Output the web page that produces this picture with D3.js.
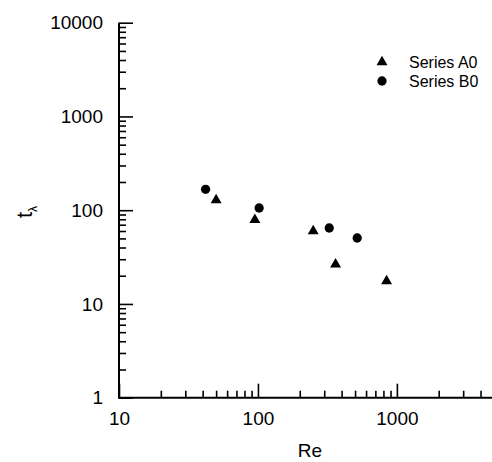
<!DOCTYPE html>
<html>
<head>
<meta charset="utf-8">
<script src="https://cdn.jsdelivr.net/npm/d3@7"></script>
<style>
  html, body { margin: 0; padding: 0; background: #fff; }
  svg { display: block; font-family: "Liberation Sans", Arial, Helvetica, sans-serif; }
</style>
</head>
<body>
<svg id="chart" width="492" height="462"></svg>
<script>
// Reynolds number vs. characteristic time, two series on log-log axes
const seriesNames = ["Series A0", "Series B0"];
const reA = [50, 95, 250, 362, 843];
const tA  = [128, 79, 60, 26.5, 17.5];
const reB = [42, 102, 326, 518];
const tB  = [167, 105.5, 64.6, 50.5];

const xMajorTicks = [10, 100, 1000];
const yMajorTicks = [1, 10, 100, 1000, 10000];

const svg = d3.select("#chart");
const plotLeft = 119, plotBottom = 397.7, plotTop = 22.7, plotW = 375;

const x = d3.scaleLog().domain([10, 5000]).range([plotLeft, plotLeft + plotW]);
const y = d3.scaleLog().domain([1, 10000]).range([plotBottom, plotTop]);

// minor ticks: 2..9 times each decade
function minorTicks(scale) {
  const [a, b] = scale.domain();
  const out = [];
  for (let d = Math.floor(Math.log10(a)); d <= Math.ceil(Math.log10(b)); d++) {
    for (let k = 2; k <= 9; k++) {
      const v = k * Math.pow(10, d);
      if (v > a && v < b) out.push(v);
    }
  }
  return out;
}

const fmt = d3.format("d");

// X axis (ticks point into the plot)
const gx = svg.append("g").attr("transform", `translate(0,${plotBottom})`);
gx.append("g").call(d3.axisTop(x).tickValues(minorTicks(x)).tickSize(7).tickFormat(""))
  .call(g => g.select(".domain").remove());
gx.append("g").call(d3.axisTop(x).tickValues(xMajorTicks).tickSize(14).tickFormat(""))
  .call(g => g.select(".domain").remove());
gx.append("g").call(d3.axisBottom(x).tickValues(xMajorTicks).tickSize(0).tickPadding(14).tickFormat(fmt))
  .call(g => g.select(".domain").remove())
  .call(g => g.selectAll("text").attr("font-size", 19).attr("fill", "#000")
        .attr("font-family", "Liberation Sans, Arial, sans-serif"));
gx.append("line").attr("x1", plotLeft).attr("x2", 492).attr("y1", 0).attr("y2", 0)
  .attr("stroke", "#000").attr("stroke-width", 2);

// Y axis (ticks point into the plot)
const gy = svg.append("g").attr("transform", `translate(${plotLeft},0)`);
gy.append("g").call(d3.axisRight(y).tickValues(minorTicks(y)).tickSize(7).tickFormat(""))
  .call(g => g.select(".domain").remove());
gy.append("g").call(d3.axisRight(y).tickValues(yMajorTicks).tickSize(14).tickFormat(""))
  .call(g => g.select(".domain").remove());
gy.append("g").call(d3.axisLeft(y).tickValues(yMajorTicks).tickSize(0).tickPadding(16).tickFormat(fmt))
  .call(g => g.select(".domain").remove())
  .call(g => g.selectAll("text").attr("font-size", 19).attr("fill", "#000")
        .attr("font-family", "Liberation Sans, Arial, sans-serif"));
gy.append("line").attr("x1", 0).attr("x2", 0).attr("y1", plotTop).attr("y2", plotBottom + 1)
  .attr("stroke", "#000").attr("stroke-width", 2);

svg.selectAll(".tick line").attr("stroke", "#000").attr("stroke-width", 1.6);

// Axis titles
svg.append("text").attr("x", 310).attr("y", 457).attr("text-anchor", "middle")
  .attr("font-size", 19).text("Re");
const yt = svg.append("text").attr("transform", "translate(32,218) rotate(-90)")
  .attr("text-anchor", "start").attr("font-size", 22);
yt.append("tspan").text("t");
yt.append("tspan").attr("font-size", 12).attr("dy", 5).text("λ");

// Markers
const tri = d3.symbol().type(d3.symbolTriangle).size(52);
const dot = d3.symbol().type(d3.symbolCircle).size(68);

svg.append("g").selectAll("path").data(reA.map((r, i) => [r, tA[i]])).join("path")
  .attr("d", tri).attr("fill", "#000")
  .attr("transform", d => `translate(${x(d[0])},${y(d[1])})`);
svg.append("g").selectAll("path").data(reB.map((r, i) => [r, tB[i]])).join("path")
  .attr("d", dot).attr("fill", "#000")
  .attr("transform", d => `translate(${x(d[0])},${y(d[1])})`);

// Legend
const legend = svg.append("g").attr("transform", "translate(382,62)");
const shapes = [tri, dot];
seriesNames.forEach((name, i) => {
  const row = legend.append("g").attr("transform", `translate(0,${i * 19})`);
  row.append("path").attr("d", shapes[i]).attr("fill", "#000");
  row.append("text").attr("x", 27).attr("y", 6).attr("font-size", 16).text(name);
});
</script>
</body>
</html>
